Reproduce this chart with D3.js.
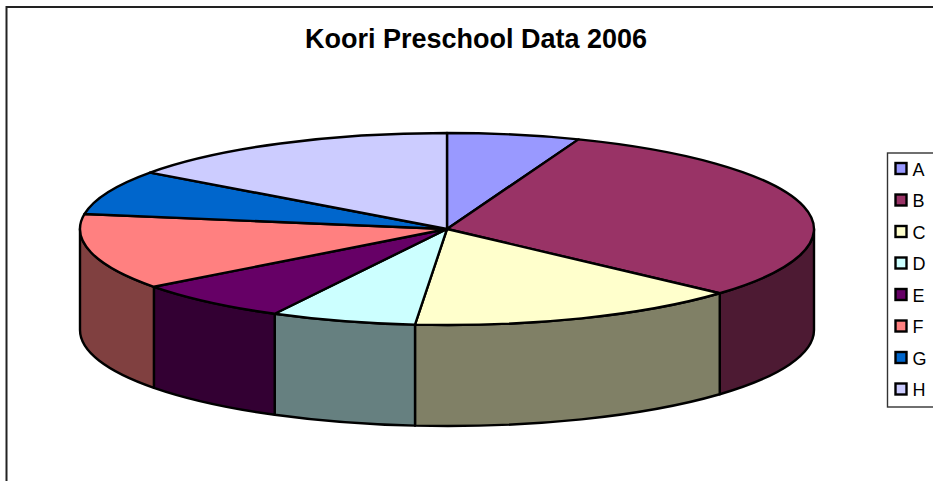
<!DOCTYPE html>
<html>
<head>
<meta charset="utf-8">
<style>html,body{margin:0;padding:0;background:#fff;overflow:hidden}svg{display:block}</style>
<script src="https://cdn.jsdelivr.net/npm/d3@7"></script>
</head>
<body>
<script>
const titleText = "Koori Preschool Data 2006";
const categories = ["A","B","C","D","E","F","G","H"];
const values = [21,111,53,23,25,46,27,54];
const topColors = ["#9999FF","#993366","#FFFFCC","#CCFFFF","#660066","#FF8080","#0066CC","#CCCCFF"];
const sideColors = ["#4D4D80","#4D1A33","#808066","#668080","#330033","#804040","#003366","#666680"];

const W = 933, H = 481;
const cx = 447, cy = 229, rx = 367, ry = 96, depth = 101;
const svg = d3.select("body").append("svg").attr("width",W).attr("height",H);

// chart frame
svg.append("path").attr("d",`M6.5,481V7H933`).attr("fill","none").attr("stroke","#222").attr("stroke-width",2);

svg.append("text").attr("x",476).attr("y",48).attr("text-anchor","middle")
  .attr("font-family","Liberation Sans, Arial, sans-serif").attr("font-weight","bold").attr("font-size",27)
  .attr("fill","#000").text(titleText);

const pie = d3.pie().sort(null).value(d=>d)(values);
const sx = d3.scaleLinear().domain([-1,1]).range([cx-rx,cx+rx]);
const sy = d3.scaleLinear().domain([-1,1]).range([cy-ry,cy+ry]);
const px = a => sx(Math.sin(a));
const py = a => sy(-Math.cos(a));
const arcTo = (a0,a1,dy,sweep) => `A${rx},${ry} 0 ${Math.abs(a1-a0)>Math.PI?1:0} ${sweep} ${px(a1)},${py(a1)+dy}`;

const lo = Math.PI/2, hi = 3*Math.PI/2;
const g = svg.append("g").attr("stroke","#000").attr("stroke-width",2.4).attr("stroke-linejoin","round");

// side walls, only the part facing the viewer
pie.forEach((p,i)=>{
  const a0 = Math.max(p.startAngle,lo), a1 = Math.min(p.endAngle,hi);
  if (a1<=a0) return;
  g.append("path").attr("fill",sideColors[i])
   .attr("d",`M${px(a0)},${py(a0)}${arcTo(a0,a1,0,1)}L${px(a1)},${py(a1)+depth}${arcTo(a1,a0,depth,0)}Z`);
});
// top face
pie.forEach((p,i)=>{
  g.append("path").attr("fill",topColors[i])
   .attr("d",`M${cx},${cy}L${px(p.startAngle)},${py(p.startAngle)}${arcTo(p.startAngle,p.endAngle,0,1)}Z`);
});

// legend
const legend = svg.append("g");
legend.append("rect").attr("x",887.5).attr("y",153).attr("width",60).attr("height",254)
  .attr("fill","#fff").attr("stroke","#333").attr("stroke-width",1.4);
const rowY = d3.scalePoint().domain(categories).range([168.5,389]);
categories.forEach((c,i)=>{
  legend.append("rect").attr("x",895.5).attr("y",rowY(c)-5.5).attr("width",11).attr("height",11)
    .attr("fill",topColors[i]).attr("stroke","#000").attr("stroke-width",2.4);
  legend.append("text").attr("x",912.5).attr("y",rowY(c)+7).attr("font-family","Liberation Sans, Arial, sans-serif")
    .attr("font-size",18).attr("fill","#000").text(c);
});
</script>
</body>
</html>
